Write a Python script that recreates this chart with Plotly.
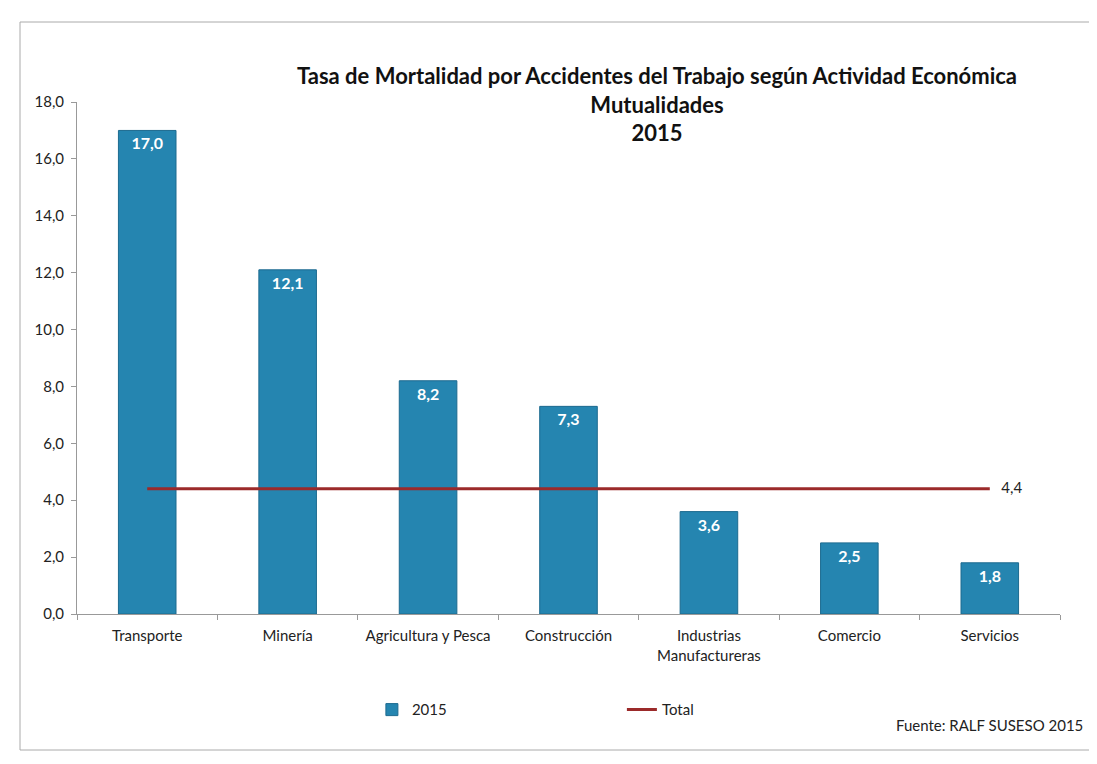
import plotly.graph_objects as go

# data
actividades = ['Transporte', 'Minería', 'Agricultura y Pesca', 'Construcción',
               'Industrias<br>Manufactureras', 'Comercio', 'Servicios']
tasa_2015 = [17.0, 12.1, 8.2, 7.3, 3.6, 2.5, 1.8]
tasa_total = [4.4, 4.4, 4.4, 4.4, 4.4, 4.4, 4.4]
y_ticks = [0, 2, 4, 6, 8, 10, 12, 14, 16, 18]

fuente = 'Lato, Carlito, Arial, sans-serif'

fig = go.Figure()
fig.add_bar(x=actividades, y=tasa_2015, name='2015',
            marker=dict(color='#2585b0', line=dict(color='#1c6a8f', width=1)),
            width=0.41,
            text=[f'{v:.1f}'.replace('.', ',') for v in tasa_2015],
            textposition='inside', insidetextanchor='end', textangle=0,
            textfont=dict(color='white', size=16, family=fuente, weight='bold'))
fig.add_scatter(x=actividades, y=tasa_total, name='Total', mode='lines+text',
                line=dict(color='#9b2a2a', width=3),
                text=[''] * (len(tasa_total) - 1) + ['   ' + f'{tasa_total[-1]:.1f}'.replace('.', ',')],
                textposition='middle right',
                textfont=dict(color='#222', size=15, family=fuente), cliponaxis=False)

# the page body adds 8px, so the figure is 8px smaller than the window
fig.update_layout(
    width=1089, height=756,
    margin=dict(l=69, r=37, t=94, b=150),
    paper_bgcolor='white', plot_bgcolor='white',
    separators=',.',
    font=dict(family=fuente, size=15, color='#222'),
    showlegend=True,
    legend=dict(orientation='h', x=0.3, y=-0.155, xanchor='left', yanchor='top',
                entrywidth=205, font=dict(size=15)),
    xaxis=dict(showline=True, linecolor='#999', ticks='outside', tickson='boundaries',
               ticklen=5, tickcolor='#999', tickfont=dict(size=15), ticklabelstandoff=8),
    yaxis=dict(range=[0, 18], tickvals=y_ticks, tickformat='.1f', showgrid=False,
               showline=True, linecolor='#999', ticks='outside', ticklen=5,
               tickcolor='#999', zeroline=False, tickfont=dict(size=15),
               ticklabelstandoff=4),
    bargap=0.59,
)

fig.add_annotation(text='<b>Tasa de Mortalidad por Accidentes del Trabajo según Actividad Económica'
                        '<br>Mutualidades<br>2015</b>',
                   xref='paper', yref='paper', x=(657 - 77) / 983, y=1.0 + (102 - 60) / 512,
                   xanchor='center', yanchor='top', showarrow=False,
                   font=dict(size=22, family=fuente, color='#111'))
fig.add_annotation(text='Fuente: RALF SUSESO 2015', xref='paper', yref='paper',
                   x=1.025, y=-0.195, xanchor='right', yanchor='top', showarrow=False,
                   font=dict(size=15, family=fuente, color='#222'))
# marco exterior
fig.add_shape(type='rect', xref='paper', yref='paper',
              x0=-57 / 983, x1=1.035, y0=-(750 - 614) / 512, y1=1.0 + (102 - 22) / 512,
              line=dict(color='#aaa', width=1))

fig.write_html('out.html')
